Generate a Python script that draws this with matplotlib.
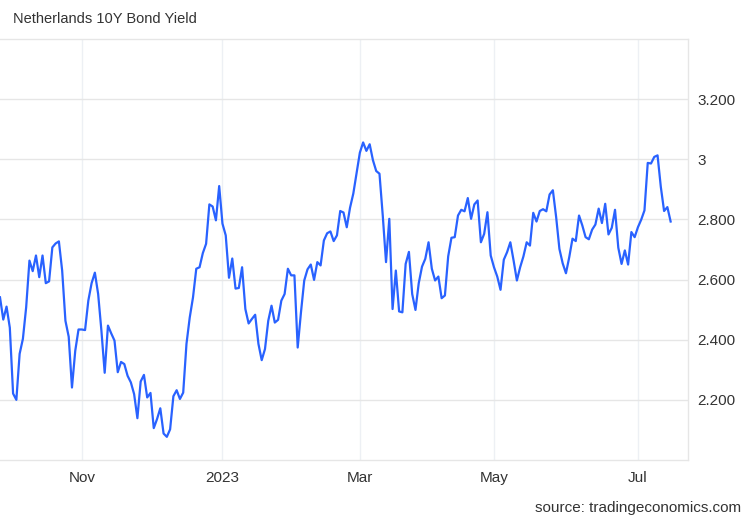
#!/usr/bin/env python3

import matplotlib
matplotlib.use('Agg')
import matplotlib.pyplot as plt
import pandas as pd
import numpy as np

"""
Netherlands 10Y bond yield, daily closes (trading days), Sep 2022 - Jul 2023.
Values read off the reference chart. Points are spaced evenly (one slot per
trading day), the way the original chart does it.
"""

plt.rcParams['font.family'] = ['Liberation Sans', 'DejaVu Sans']

title = 'Netherlands 10Y Bond Yield'
source = 'source: tradingeconomics.com'
start_date = '2022-09-27'
# market holidays skipped in the series
holidays = ['2022-12-26', '2023-04-07', '2023-04-10', '2023-05-01']

yields = [
    # late Sep / Oct 2022
    2.541, 2.467, 2.510, 2.440, 2.221, 2.200, 2.353, 2.403, 2.508, 2.663,
    2.628, 2.680, 2.608, 2.680, 2.588, 2.594, 2.707, 2.720, 2.727, 2.630,
    2.463, 2.410, 2.241, 2.363, 2.434, 2.434, 2.432, 2.530, 2.588, 2.623,
    2.552, 2.430, 2.290, 2.447, 2.421, 2.397, 2.292, 2.326, 2.319,
    # Nov / Dec 2022
    2.280, 2.258, 2.219, 2.139, 2.261, 2.283, 2.208, 2.223, 2.106, 2.136,
    2.172, 2.088, 2.077, 2.102, 2.212, 2.232, 2.203, 2.224, 2.386, 2.474,
    2.541, 2.636, 2.641, 2.688, 2.719, 2.850, 2.843, 2.797, 2.911, 2.786,
    2.747, 2.606, 2.670, 2.570, 2.572, 2.641,
    # Jan / Feb 2023
    2.502, 2.454, 2.469, 2.483, 2.386, 2.332, 2.369, 2.463, 2.513, 2.457,
    2.466, 2.530, 2.552, 2.636, 2.614, 2.614, 2.374, 2.491, 2.597, 2.634,
    2.650, 2.599, 2.658, 2.647, 2.730, 2.754, 2.760, 2.728, 2.747, 2.828,
    2.823, 2.774, 2.839, 2.886, 2.954, 3.022, 3.056,
    # Mar / Apr 2023
    3.028, 3.050, 2.997, 2.961, 2.952, 2.813, 2.658, 2.802, 2.502, 2.630,
    2.494, 2.491, 2.652, 2.692, 2.552, 2.499, 2.588, 2.643, 2.669, 2.724,
    2.636, 2.597, 2.610, 2.538, 2.547, 2.677, 2.739, 2.741, 2.813, 2.832,
    2.827, 2.871, 2.802, 2.850, 2.863, 2.724, 2.752,
    # May / Jun 2023
    2.824, 2.680, 2.641, 2.610, 2.566, 2.666, 2.691, 2.724, 2.663, 2.597,
    2.641, 2.677, 2.724, 2.713, 2.822, 2.793, 2.828, 2.834, 2.827, 2.883,
    2.897, 2.808, 2.702, 2.654, 2.621, 2.674, 2.736, 2.728, 2.813, 2.780,
    2.741, 2.734, 2.766, 2.783, 2.836, 2.788, 2.852,
    # late Jun / Jul 2023
    2.750, 2.772, 2.832, 2.706, 2.652, 2.697, 2.650, 2.758, 2.741, 2.774,
    2.799, 2.830, 2.988, 2.986, 3.008, 3.013, 2.908, 2.828, 2.841, 2.793,
]

x_ticks = ['2022-11-01', '2023-01-01', '2023-03-01', '2023-05-01', '2023-07-01']
x_labels = ['Nov', '2023', 'Mar', 'May', 'Jul']
y_ticks = [2.2, 2.4, 2.6, 2.8, 3.0, 3.2]
y_labels = ['2.200', '2.400', '2.600', '2.800', '3', '3.200']

dates = pd.bdate_range(start_date, periods=len(yields), freq='C', holidays=holidays)
pos = np.arange(len(dates))
# tick sits on the first trading day of each month
tick_pos = [dates.searchsorted(pd.Timestamp(t)) for t in x_ticks]

fig = plt.figure(figsize=(7.5, 5.2), dpi=100)
ax = fig.add_axes([0.0, 0.1154, 0.9173, 0.8096])

ax.plot(pos, yields, color='#2962ff', linewidth=1.6)

ax.set_xlim(0, 210.3)
ax.set_ylim(2.0, 3.4)

ax.set_xticks(tick_pos)
ax.set_xticklabels(x_labels)
ax.set_yticks(y_ticks)
ax.set_yticklabels(y_labels)

ax.yaxis.tick_right()
ax.tick_params(axis='both', length=0, labelsize=11, labelcolor='#333333')
ax.tick_params(axis='y', pad=7)
ax.tick_params(axis='x', pad=8)
for lab in ax.get_yticklabels():
    lab.set_horizontalalignment('left')

# grid: horizontal grey, vertical very light
ax.grid(axis='y', color='#e6e6e6', linewidth=1)
ax.grid(axis='x', color='#edf0f4', linewidth=1)
ax.set_axisbelow(True)

ax.spines['left'].set_visible(False)
for side in ['top', 'right', 'bottom']:
    ax.spines[side].set_color('#e6e6e6')
    ax.spines[side].set_linewidth(1)

fig.text(13 / 750, 1 - 19 / 520, title, fontsize=10.5, color='#333333',
         ha='left', va='center')
fig.text(741 / 750, 1 - 508 / 520, source, fontsize=11, color='#333333',
         ha='right', va='center')

plt.savefig('out.png', dpi=100)
plt.close()
